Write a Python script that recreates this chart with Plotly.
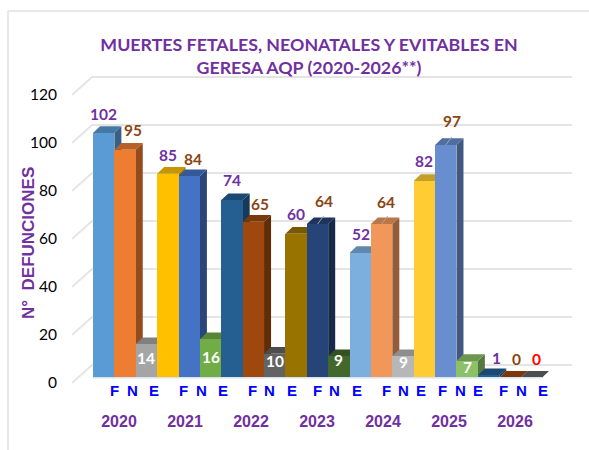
import plotly.graph_objects as go

# ---- data ----
years = ["2020", "2021", "2022", "2023", "2024", "2025", "2026"]
kinds = ["F", "N", "E"]
fetales = [102, 85, 74, 60, 52, 82, 1]
neonatales = [95, 84, 65, 64, 64, 97, 0]
evitables = [14, 16, 10, 9, 9, 7, 0]
y_ticks = [0, 20, 40, 60, 80, 100, 120]

# ---- styles ----
colors = ["#5B9BD5", "#ED7D31", "#A5A5A5", "#FFC000", "#4472C4", "#70AD47",
          "#255E91", "#9E480E", "#636363", "#997300", "#264478", "#43682B",
          "#7CAFDD", "#F1975A", "#B7B7B7", "#FFCD33", "#698ED0", "#8CC168",
          "#255E91", "#9E480E", "#636363"]
PURPLE = "#7030A0"
BROWN = "#8B4513"
FONT = "Lato, sans-serif"
label_dx = [0, 8, 0, 0, 4, 0, 0, 7, 0, 0, 6, 0, 1, 4, 0, 0, 6, 0, 8, 7, 5]
label_dy = [19, 20, -14, 19, 17, -18, 20, 18, -7, 20, 23, -4, 19, 22, -6, 20, 24, -6, 17, 19, 19]
leader_bars = [10, 13, 16]
kind_px = [114, 132, 154, 183, 201, 223, 252, 269, 292, 317, 334, 357,
           386, 403, 421, 442, 460, 478, 503, 521, 543]
year_px = [119, 185, 251, 317, 383, 449, 515]

W, H = 589, 450
L, R, T, B = 72, 17, 60, 50
PX_X = 21.38           # pixels per bar
PX_Y = 2.4             # pixels per unit
BAR0 = 103.7           # pixel centre of the first bar
ZERO = 377.7           # pixel of value 0 on the front plane
x_rng = [(L - BAR0) / PX_X, (W - R - BAR0) / PX_X]
y_rng = [(ZERO - (H - B)) / PX_Y, (ZERO - T) / PX_Y]


def dx(px):
    return px / PX_X


def dy(px):
    return px / PX_Y


def shade(hex_color, f):
    r, g, b = (int(hex_color[i:i + 2], 16) for i in (1, 3, 5))
    return f"rgb({int(r * f)},{int(g * f)},{int(b * f)})"


values = [v for trio in zip(fetales, neonatales, evitables) for v in trio]
idx = list(range(len(values)))

fig = go.Figure()

# wall gridlines with their diagonal floor ticks
gx, gy = [], []
for t in y_ticks:
    gx += [dx(72 - BAR0), dx(92 - BAR0), dx(572 - BAR0), None]
    gy += [t - dy(5.3), t + dy(12.6), t + dy(12.6), None]
fig.add_trace(go.Scatter(x=gx, y=gy, mode="lines", line=dict(color="#E4E4E4", width=2),
                         hoverinfo="skip", showlegend=False))

# depth faces (under every front face)
DX, DY = dx(7), dy(6.7)
for i, v, c in zip(idx, values, colors):
    x0, x1 = i - 0.5, i + 0.5
    fig.add_trace(go.Scatter(x=[x1, x1 + DX, x1 + DX, x1, x1], y=[0, DY, v + DY, v, 0],
                             mode="lines", fill="toself", fillcolor=shade(c, 0.62),
                             line=dict(width=0), hoverinfo="skip", showlegend=False))
    fig.add_trace(go.Scatter(x=[x0, x0 + DX, x1 + DX, x1, x0], y=[v, v + DY, v + DY, v, v],
                             mode="lines", fill="toself", fillcolor=shade(c, 0.78),
                             line=dict(width=0), hoverinfo="skip", showlegend=False))

# front faces
fig.add_trace(go.Bar(x=idx, y=values, width=1, marker=dict(color=colors, line=dict(width=0)),
                     xaxis="x2", yaxis="y2", showlegend=False))
fig.add_trace(go.Scatter(x=[-0.5, len(values) - 0.5], y=[0, 0], mode="lines",
                         line=dict(color="#D5E3F2", width=1.5), xaxis="x2", yaxis="y2",
                         hoverinfo="skip", showlegend=False))

# leader lines
lx, ly = [], []
for i in leader_bars:
    lx += [i, i + dx(6), None]
    ly += [values[i], values[i] + dy(8), None]
fig.add_trace(go.Scatter(x=lx, y=ly, mode="lines", line=dict(color="#A6A6A6", width=1),
                         xaxis="x2", yaxis="y2", hoverinfo="skip", showlegend=False))

# value labels
ann = []
for i, v in enumerate(values):
    k = i % 3
    inside = label_dy[i] < 0
    if inside:
        col = "white"
    elif i == 20:
        col = "#FF0000"
    else:
        col = PURPLE if k == 0 else BROWN
    ann.append(dict(x=i, y=v, xref="x2", yref="y2", text=str(v), showarrow=False,
                    xshift=label_dx[i], yshift=label_dy[i], xanchor="center", yanchor="middle",
                    font=dict(family=FONT, size=15.5, color=col, weight="bold")))

# F / N / E row
for i in idx:
    ann.append(dict(x=(kind_px[i] - BAR0) / PX_X, y=(ZERO - 390) / PX_Y, xref="x2", yref="y2",
                    text=kinds[i % 3], showarrow=False, xanchor="center", yanchor="middle",
                    font=dict(family="Liberation Sans, Arial, sans-serif", size=15,
                              color="#0000FF", weight="bold")))

PW, PH = W - L - R, H - T - B
fig.update_layout(
    width=W, height=H, autosize=False,
    margin=dict(l=L, r=R, t=T, b=B),
    paper_bgcolor="white", plot_bgcolor="rgba(0,0,0,0)",
    barmode="overlay", bargap=0,
    title=dict(text="MUERTES FETALES, NEONATALES Y EVITABLES EN<br>GERESA AQP (2020-2026**)",
               x=309 / W, xanchor="center", y=1 - 51 / H, yanchor="middle",
               font=dict(family=FONT, size=17.8, color=PURPLE, weight="bold")),
    xaxis=dict(range=x_rng, tickmode="array",
               tickvals=[(p - BAR0) / PX_X for p in year_px], ticktext=years,
               showgrid=False, zeroline=False, showline=False, ticks="",
               ticklabelstandoff=10,
               tickfont=dict(family="Liberation Sans, Arial, sans-serif", size=16,
                             color=PURPLE, weight="bold")),
    yaxis=dict(range=y_rng, tickmode="array", tickvals=y_ticks, ticktext=[str(t) for t in y_ticks],
               showgrid=False, zeroline=False, showline=False, ticks="",
               ticklabelstandoff=14, ticklabelshift=5,
               tickfont=dict(family=FONT, size=15.5, color="black")),
    xaxis2=dict(range=x_rng, overlaying="x", visible=False),
    yaxis2=dict(range=y_rng, overlaying="y", visible=False),
    annotations=ann + [dict(x=(28 - L) / PW, y=(H - B - 243) / PH, xref="paper", yref="paper",
                            text="N°  DEFUNCIONES", textangle=-90, showarrow=False,
                            xanchor="center", yanchor="middle",
                            font=dict(family="Liberation Sans, Arial, sans-serif", size=17,
                                      color=PURPLE, weight="bold"))],
    shapes=[dict(type="line", xref="paper", yref="paper",
                 x0=(8 - L) / PW, x1=(W - L) / PW,
                 y0=(H - B - 11) / PH, y1=(H - B - 11) / PH,
                 line=dict(color="#E0E0E0", width=1.5)),
            dict(type="line", xref="paper", yref="paper",
                 x0=(8 - L) / PW, x1=(8 - L) / PW,
                 y0=(H - B - 11) / PH, y1=-B / PH,
                 line=dict(color="#E0E0E0", width=1.5))],
)

fig.write_html("out.html", config={"displayModeBar": False},
               post_script="document.body.style.margin='0';document.documentElement.style.overflow='hidden';")
